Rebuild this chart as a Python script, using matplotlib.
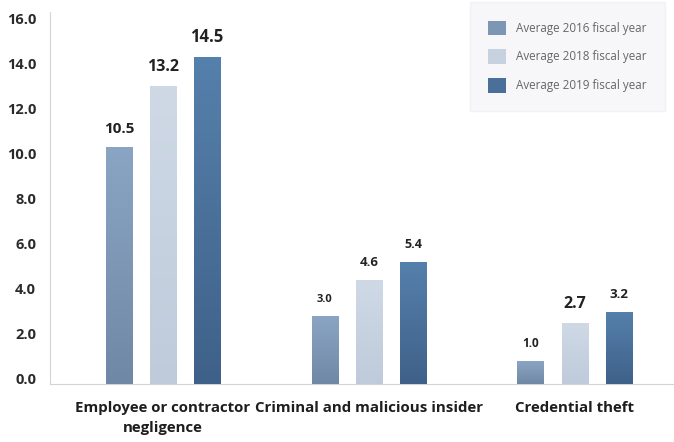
import numpy as np
import matplotlib.pyplot as plt
from matplotlib.colors import LinearSegmentedColormap
from matplotlib.transforms import ScaledTranslation

plt.rcParams['font.family'] = ['Open Sans', 'DejaVu Sans']

categories = ['Employee or contractor\nnegligence', 'Criminal and malicious insider', 'Credential theft']
series_names = ['Average 2016 fiscal year', 'Average 2018 fiscal year', 'Average 2019 fiscal year']
values_2016 = [10.5, 3.0, 1.0]
values_2018 = [13.2, 4.6, 2.7]
values_2019 = [14.5, 5.4, 3.2]
yticks = [0, 2, 4, 6, 8, 10, 12, 14, 16]

# (top, bottom) colours for the soft vertical gradient on each series
grad_colors = [('#8aa5c3', '#6f88a6'), ('#cfd9e6', '#bfcbdb'), ('#5580ab', '#3f6189')]
# value label font size per series (rows) and group (columns)
label_sizes = [[11, 8, 8.5], [11.5, 9.5, 11.5], [12, 9, 9.5]]

fig = plt.figure(figsize=(6.74, 4.42), dpi=100)
ax = fig.add_axes([50 / 674, 58 / 442, 624 / 674, 372 / 442])

x = np.arange(len(categories))
width = 0.13
offset = 0.214
all_values = [values_2016, values_2018, values_2019]

handles = []
for i, vals in enumerate(all_values):
    top, bottom = grad_colors[i]
    cmap = LinearSegmentedColormap.from_list('g%d' % i, [top, bottom])
    bars = ax.bar(x + (i - 1) * offset, vals, width, color=cmap(0.5), label=series_names[i], zorder=2)
    handles.append(bars)
    grad = np.linspace(0, 1, 100).reshape(-1, 1)
    for j, b in enumerate(bars):
        im = ax.imshow(grad, cmap=cmap, aspect='auto', zorder=3,
                       extent=[b.get_x(), b.get_x() + b.get_width(), 0, b.get_height()])
        im.set_clip_path(b)
        ax.annotate(f'{vals[j]:.1f}', (b.get_x() + b.get_width() / 2, b.get_height()),
                    xytext=(0, 8), textcoords='offset points', ha='center', va='bottom',
                    fontsize=label_sizes[i][j], fontweight='bold', color='#222222')

ax.set_xlim(-0.549, 2.481)
ax.set_ylim(0, 16.5)
ax.set_yticks(yticks)
ax.set_yticklabels([f'{v:.1f}' for v in yticks], fontsize=10.5, fontweight='bold', color='#2a2a2a')
ax.set_xticks(x)
ax.set_xticklabels(categories, fontsize=10.8, fontweight='bold', color='#1e1e1e', linespacing=1.6)
ax.tick_params(length=0)
ax.tick_params(axis='y', pad=10)
ax.tick_params(axis='x', pad=12)
for lab in ax.get_yticklabels():
    lab.set_transform(lab.get_transform() + ScaledTranslation(0, 5 / 100, fig.dpi_scale_trans))

for s in ['top', 'right']:
    ax.spines[s].set_visible(False)
ax.spines['left'].set_color('#d4d4d4')
ax.spines['bottom'].set_color('#d4d4d4')

leg = ax.legend(handles=handles, loc='upper right', bbox_to_anchor=(665 / 674, 440 / 442),
                bbox_transform=fig.transFigure, fontsize=8.4, frameon=True, fancybox=False,
                borderpad=1.6, labelspacing=1.25, handlelength=1.5, handleheight=1.5,
                handletextpad=0.85, borderaxespad=0)
leg.get_frame().set_facecolor('#f5f6f8')
leg.get_frame().set_edgecolor('#eef0f2')
for t in leg.get_texts():
    t.set_color('#666666')

fig.savefig('out.png', dpi=100)
